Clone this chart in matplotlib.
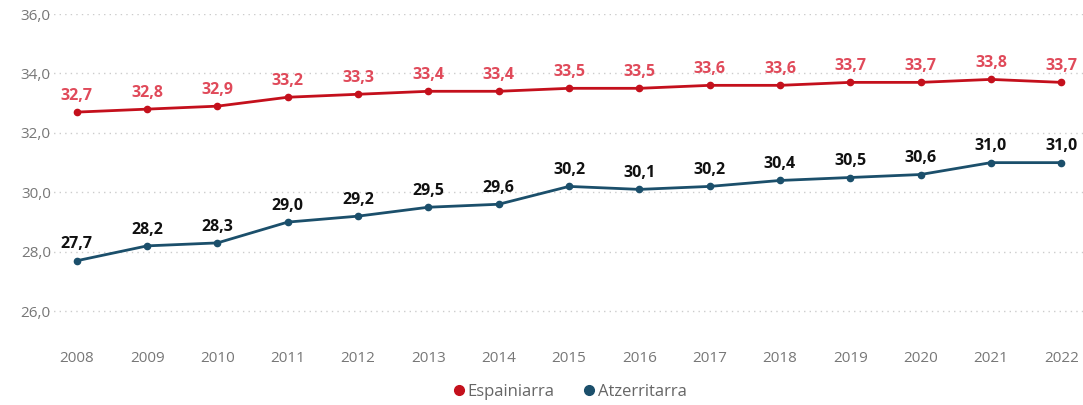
import matplotlib
matplotlib.use("Agg")
import matplotlib.pyplot as plt
from matplotlib.lines import Line2D

years = [2008, 2009, 2010, 2011, 2012, 2013, 2014, 2015, 2016, 2017, 2018, 2019, 2020, 2021, 2022]
espainiarra = [32.7, 32.8, 32.9, 33.2, 33.3, 33.4, 33.4, 33.5, 33.5, 33.6, 33.6, 33.7, 33.7, 33.8, 33.7]
atzerritarra = [27.7, 28.2, 28.3, 29.0, 29.2, 29.5, 29.6, 30.2, 30.1, 30.2, 30.4, 30.5, 30.6, 31.0, 31.0]
series_names = ["Espainiarra", "Atzerritarra"]
yticks = [26, 28, 30, 32, 34, 36]

red_line = "#C4101C"
red_text = "#E04A5A"
blue_line = "#1B4F6B"

plt.rcParams['font.family'] = ['Open Sans', 'DejaVu Sans']

fig = plt.figure(figsize=(10.83, 4.05), dpi=100)
ax = fig.add_axes([48/1083, 1-341/405, 1-48/1083, (341-14)/405])

ax.plot(years, espainiarra, color=red_line, lw=2, marker='o', ms=4.5, zorder=3)
ax.plot(years, atzerritarra, color=blue_line, lw=2, marker='o', ms=4.5, zorder=3)

for x, v in zip(years, espainiarra):
    ax.annotate(f"{v:.1f}".replace('.', ','), (x, v), xytext=(0, 6), textcoords='offset points',
                ha='center', va='bottom', fontsize=11.5, fontweight='bold', color=red_text)
for x, v in zip(years, atzerritarra):
    ax.annotate(f"{v:.1f}".replace('.', ','), (x, v), xytext=(0, 6), textcoords='offset points',
                ha='center', va='bottom', fontsize=11.5, fontweight='bold', color='#111111')

ax.set_ylim(25, 36)
ax.set_xlim(years[0] - 0.41, years[-1] + 0.31)
ax.set_yticks(yticks)
ax.set_yticklabels([f"{t:.1f}".replace('.', ',') for t in yticks])
ax.set_xticks(years)
ax.set_xticklabels([str(y) for y in years])
ax.tick_params(axis='both', length=0, labelsize=11, colors='#777777')
ax.tick_params(axis='y', pad=-2)
ax.tick_params(axis='x', pad=7)
ax.grid(axis='y', color='#CCCCCC', linestyle=(0, (1, 3)), lw=1)
ax.set_axisbelow(True)
for s in ax.spines.values():
    s.set_visible(False)

handles = [Line2D([], [], marker='o', ls='', color=red_line, ms=7),
           Line2D([], [], marker='o', ls='', color=blue_line, ms=7)]
fig.legend(handles, series_names, loc='center', bbox_to_anchor=(0.525, 1-392/405), ncol=2,
           frameon=False, fontsize=12, labelcolor='#666666', handletextpad=0.0,
           columnspacing=1.6, handlelength=1.0)

fig.savefig("out.png", dpi=100)
